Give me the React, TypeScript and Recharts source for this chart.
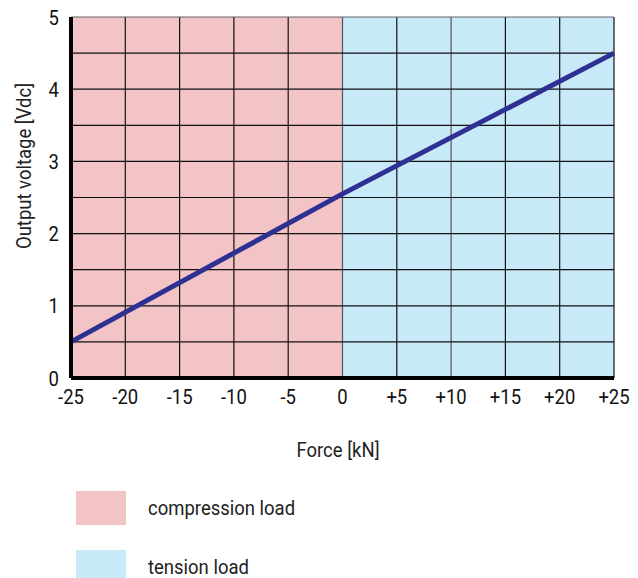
import { ComposedChart, Line, XAxis, YAxis, ReferenceArea, ReferenceLine } from 'recharts';

const force = [-25, 0, 25];
const voltage = [0.5, 2.55, 4.5];
const xTicks = [-25, -20, -15, -10, -5, 0, 5, 10, 15, 20, 25];
const yTicks = [0, 1, 2, 3, 4, 5];
const yGrid = [0.5, 1, 1.5, 2, 2.5, 3, 3.5, 4, 4.5, 5];
const regions = [
  { name: 'compression load', from: -25, to: 0, color: '#f2c4c6' },
  { name: 'tension load', from: 0, to: 25, color: '#c8e9f8' },
];

const data = force.map((f, i) => ({ force: f, voltage: voltage[i] }));
const font = 'Roboto, "DejaVu Sans", sans-serif';
const squeeze = 0.88;

const fmtX = (v: number) => (v > 0 ? `+${v}` : `${v}`);

// narrow tick text, the reference uses a condensed face
function NarrowTick(props: any) {
  const { x, y, payload, textAnchor, axis } = props;
  const label = axis === 'x' ? fmtX(payload.value) : String(payload.value);
  return (
    <text
      transform={`translate(${x},${y}) scale(${squeeze},1)`}
      textAnchor={textAnchor}
      dy={axis === 'x' ? '0.75em' : '0.36em'}
      fontSize={21}
      fontWeight={400}
      fontFamily={font}
      fill="#111"
    >
      {label}
    </text>
  );
}

const narrow = { whiteSpace: 'nowrap' as const, fontSize: 21, fontWeight: 400, color: '#222' };

export default function App() {
  return (
    <div style={{ position: 'absolute', left: 0, top: 0, width: 638, height: 578, fontFamily: font, background: '#fff' }}>
      <ComposedChart width={638} height={578} data={data} margin={{ top: 17, right: 24, left: 31, bottom: 170 }}>
        {regions.map(r => (
          <ReferenceArea key={r.name} x1={r.from} x2={r.to} y1={0} y2={5} fill={r.color} fillOpacity={1} stroke="none" />
        ))}
        {xTicks.slice(1).map(v => (
          <ReferenceLine key={'x' + v} x={v} stroke={v === 0 || v === 10 ? '#555' : '#111'} strokeWidth={1.2} />
        ))}
        {yGrid.map(v => (
          <ReferenceLine key={'y' + v} y={v} stroke={v === 5 ? '#666' : '#111'} strokeWidth={1.2} />
        ))}
        <XAxis
          type="number"
          dataKey="force"
          domain={[-25, 25]}
          ticks={xTicks}
          tickLine={false}
          axisLine={{ stroke: '#000', strokeWidth: 4 }}
          tick={<NarrowTick axis="x" />}
          tickMargin={4}
          height={30}
        />
        <YAxis
          type="number"
          domain={[0, 5]}
          ticks={yTicks}
          tickLine={false}
          axisLine={{ stroke: '#000', strokeWidth: 4 }}
          tick={<NarrowTick axis="y" />}
          tickMargin={6}
          width={40}
        />
        <Line
          type="linear"
          dataKey="voltage"
          stroke="#2e3192"
          strokeWidth={5}
          dot={false}
          isAnimationActive={false}
        />
      </ComposedChart>
      <div style={{ position: 'absolute', left: 0, top: 0, width: 638, height: 578, pointerEvents: 'none' }}>
        <div style={{ ...narrow, position: 'absolute', left: 24, top: 166, transform: `translate(-50%, -50%) rotate(-90deg) scaleX(${squeeze})`, transformOrigin: 'center center' }}>
          Output voltage [Vdc]
        </div>
        <div style={{ ...narrow, position: 'absolute', left: 338, top: 450, transform: `translate(-50%, -50%) scaleX(${squeeze})`, transformOrigin: 'center center' }}>
          Force [kN]
        </div>
        {regions.map((r, i) => (
          <div key={r.name} style={{ position: 'absolute', left: 76, top: 491 + i * 59, height: 34, display: 'flex', alignItems: 'center' }}>
            <div style={{ width: 50, height: 34, background: r.color }} />
            <span style={{ ...narrow, marginLeft: 22, display: 'inline-block', transform: `scaleX(${squeeze})`, transformOrigin: 'left center' }}>{r.name}</span>
          </div>
        ))}
      </div>
    </div>
  );
}
